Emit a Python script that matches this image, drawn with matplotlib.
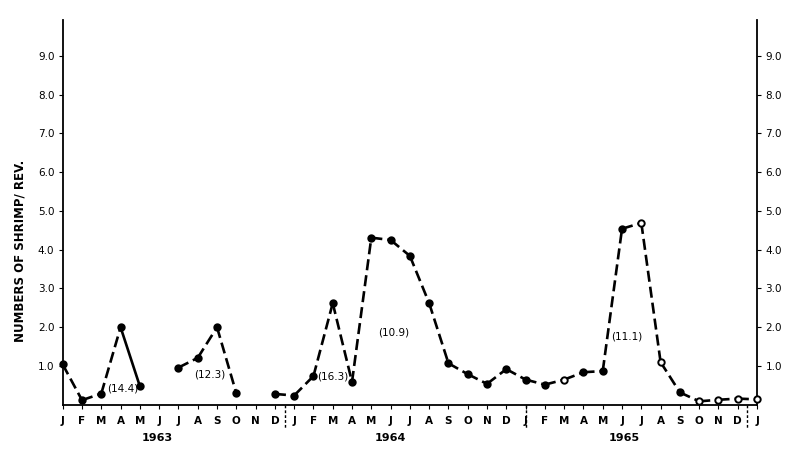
import numpy as np
import matplotlib
matplotlib.use("Agg")
import matplotlib.pyplot as plt

months = ["J", "F", "M", "A", "M", "J", "J", "A", "S", "O", "N", "D"] * 3 + ["J"]
years = ["1963", "1964", "1965"]
# monthly values Jan 1963 .. Jan 1966 (NaN = no sample)
values = [1.04, 0.12, 0.29, 2.0, 0.48, np.nan, 0.96, 1.21, 2.0, 0.30, np.nan, 0.28,
          0.24, 0.74, 2.62, 0.59, 4.31, 4.25, 3.84, 2.62, 1.07, 0.79, 0.54, 0.92,
          0.65, 0.52, 0.65, 0.84, 0.87, 4.54, 4.69, 1.10, 0.32, 0.09, 0.13, 0.16,
          0.14]
labels = ["(14.4)", "(12.3)", "(16.3)", "(10.9)", "(11.1)"]
label_pos = [(3.13, 0.42), (7.64, 0.77), (14.0, 0.72), (17.17, 1.86), (29.25, 1.77)]

x = np.arange(len(values))
y = np.array(values, dtype=float)

fig = plt.figure(figsize=(8, 4.57), dpi=100)
ax = fig.add_axes([0.0784, 0.1142, 0.9463 - 0.0784, 0.956 - 0.1142])
ax.set_xlim(0, 36)
ax.set_ylim(0, 9.92)

solid_segments = {3}
for i in range(len(x) - 1):
    if np.isnan(y[i]) or np.isnan(y[i + 1]):
        continue
    ln, = ax.plot(x[i:i + 2], y[i:i + 2], color="black", lw=1.9,
                  solid_capstyle="butt", dash_capstyle="butt")
    if i not in solid_segments:
        ln.set_dashes((4.2, 1.9))

open_pts = {26, 30, 31, 33, 34, 35, 36}
for i in range(len(x)):
    if np.isnan(y[i]):
        continue
    fc = "white" if i in open_pts else "black"
    ax.plot(x[i], y[i], marker="o", ms=4.6, mfc=fc, mec="black", mew=1.4,
            zorder=3, clip_on=False)

for t, (px, py) in zip(labels, label_pos):
    ax.text(px, py, t, fontsize=7.5, ha="center", va="center",
            family="DejaVu Sans")

ax.spines["top"].set_visible(False)
for s in ["left", "right", "bottom"]:
    ax.spines[s].set_linewidth(1.3)

ax.set_xticks(x)
ax.set_xticklabels(months, fontsize=7.5, fontweight="bold")
ax.tick_params(axis="x", length=3, width=0.8, pad=5, direction="out")

yt = np.arange(1, 10)
ax.set_yticks(yt)
ax.set_yticklabels([f"{v:.1f}" for v in yt], fontsize=7.5)
ax.tick_params(axis="y", length=3, width=0.8, direction="out", pad=3,
               right=True, labelright=True)

ax.text(-0.062, 0.40, "NUMBERS OF SHRIMP/ REV.", transform=ax.transAxes,
        rotation=90, fontsize=8.5, fontweight="bold", ha="center", va="center")

for xi in [11.5, 24, 35.5]:
    ax.plot([xi, xi], [0, -0.6], transform=ax.transData, color="black", lw=1,
            ls=(0, (2, 1.5)), clip_on=False)

for yr, xc in zip(years, [4.9, 17.0, 29.1]):
    ax.text(xc, -0.86, yr, fontsize=8, fontweight="bold", ha="center",
            va="center", transform=ax.transData)

fig.savefig("out.png", dpi=100)
